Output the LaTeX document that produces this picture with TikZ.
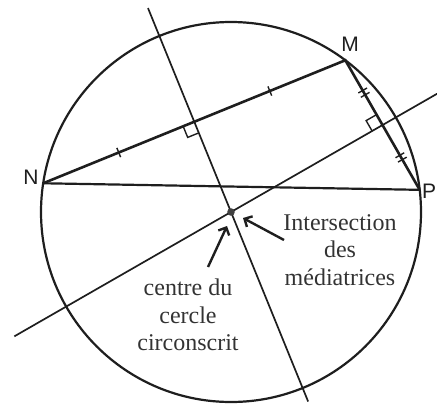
\documentclass[tikz,border=0pt]{standalone}
\usepackage{fontspec}
\setmainfont{Liberation Serif}
\newfontfamily\labelfont{Liberation Sans}
\usetikzlibrary{arrows.meta, calc}
\definecolor{cink}{HTML}{1E1E1E}
\definecolor{ctext}{HTML}{333333}
\tikzset{
  every picture/.style={x=1pt, y=-1pt, line width=1.6pt, color=cink},
  side/.style={line width=2.6pt},
  bisector/.style={line width=1.7pt},
  tick/.style={line width=1.4pt},
  rightangle/.style={line width=1.4pt},
  ptlabel/.style={font=\labelfont\fontsize{21}{21}\selectfont, text=cink, inner sep=0pt},
  note/.style={font=\fontsize{24}{27.5}\selectfont, text=ctext, align=center, inner sep=0pt},
  arrow/.style={-{Straight Barb[length=6pt, width=12pt]}, line width=2.4pt},
}

\begin{document}
\begin{tikzpicture}
  \useasboundingbox (0,0) rectangle (437,405);
  % circle and its three points
  \coordinate (O) at (231,212);
  \draw[line width=2.2pt] (O) circle[radius=190];
  \coordinate (N) at ($(O)+(188.7:190)$);
  \coordinate (M) at ($(O)+(-53:190)$);
  \coordinate (P) at ($(O)+(-6.7:190)$);
  \coordinate (K1) at ($(N)!0.5!(M)$);
  \coordinate (K2) at ($(M)!0.5!(P)$);
  % perpendicular bisectors
  \draw[bisector] ($(O)!2.26!(K1)$) -- ($(O)!-2.1!(K1)$);
  \draw[bisector] ($(O)!1.36!(K2)$) -- ($(O)!-1.43!(K2)$);
  % triangle sides
  \draw[side] (N) -- (M) -- (P);
  \draw[line width=2.2pt] (N) -- (P);
  % equal marks
  \foreach \t in {0.25,0.75}
    \draw[tick] ($(N)!\t!(M)!5pt!90:(M)$) -- ($(N)!\t!(M)!5pt!-90:(M)$);
  \foreach \t in {0.25,0.75}
    \foreach \d in {-2.5,2.5} {
      \coordinate (q) at ($(M)!\t!(P)$);
      \coordinate (q) at ($(q)!\d pt!(P)$);
      \draw[tick] ($(q)!5pt!90:(P)$) -- ($(q)!5pt!-90:(P)$);
    }
  % right angles
  \coordinate (ra) at ($(K1)!12pt!(N)$);
  \coordinate (rb) at ($(K1)!12pt!(O)$);
  \draw[rightangle] (ra) -- ($(ra)+(rb)-(K1)$) -- (rb);
  \coordinate (sa) at ($(K2)!12pt!(M)$);
  \coordinate (sb) at ($(K2)!12pt!(O)$);
  \draw[rightangle] (sa) -- ($(sa)+(sb)-(K2)$) -- (sb);
  % centre
  \fill[cink!85] (O) circle[radius=3.8];
  % labels
  \node[ptlabel] (lM) at (350,44) {M};
  \node[ptlabel] (lN) at (31,177) {N};
  \node[ptlabel, anchor=east] (lP) at (437,191) {P};
  \node[note] (inter) at (340,250) {Intersection\\des\\médiatrices};
  \node[note] (centre) at (188,315) {centre du\\cercle\\circonscrit};
  % arrows
  \coordinate (a1s) at (284,240);
  \coordinate (a1e) at (243,218);
  \coordinate (a2s) at (208,267);
  \coordinate (a2e) at (227,226);
  \draw[arrow] (a1s) -- (a1e);
  \draw[arrow] (a2s) -- (a2e);
\end{tikzpicture}
\end{document}
